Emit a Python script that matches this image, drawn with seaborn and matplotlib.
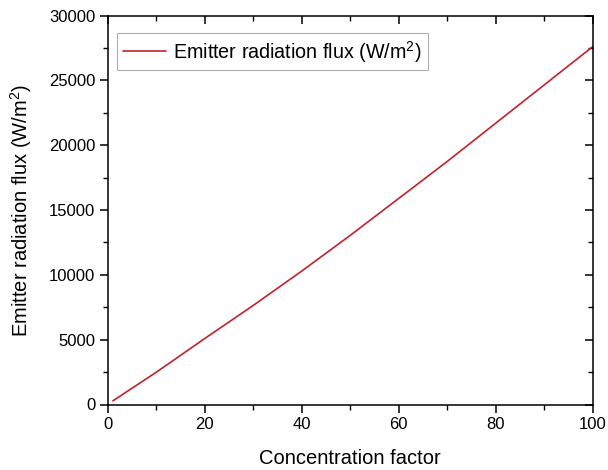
import matplotlib
matplotlib.use("Agg")
import matplotlib.pyplot as plt
from matplotlib.ticker import MultipleLocator
import seaborn as sns
import pandas as pd

# Emitter radiation flux versus solar concentration factor
concentration = [1, 10, 20, 30, 40, 50, 60, 70, 80, 90, 100]
flux = [280, 2500, 5100, 7650, 10300, 13050, 15900, 18750, 21700, 24650, 27600]

df = pd.DataFrame({"Concentration factor": concentration,
                   "Emitter radiation flux (W/m$^2$)": flux})

sns.set_theme(style="ticks")
plt.rcParams["font.family"] = ["Liberation Sans", "DejaVu Sans"]
plt.rcParams["mathtext.fontset"] = "custom"
plt.rcParams["mathtext.rm"] = "Liberation Sans"
plt.rcParams["mathtext.it"] = "Liberation Sans"
plt.rcParams["text.color"] = "black"

fig = plt.figure(figsize=(6.08, 4.70), dpi=100)
ax = fig.add_axes([108 / 608, 1 - 404.5 / 470, (592.5 - 108) / 608, (404.5 - 15.7) / 470])

sns.lineplot(data=df, x="Concentration factor", y="Emitter radiation flux (W/m$^2$)",
             ax=ax, color="#c4212b", linewidth=1.2,
             label="Emitter radiation flux (W/m$^2$)")

ax.set_xlim(0, 100)
ax.set_ylim(0, 30000)
ax.xaxis.set_major_locator(MultipleLocator(20))
ax.xaxis.set_minor_locator(MultipleLocator(10))
ax.yaxis.set_major_locator(MultipleLocator(5000))
ax.yaxis.set_minor_locator(MultipleLocator(2500))

for side in ["top", "right", "bottom", "left"]:
    ax.spines[side].set_visible(True)
    ax.spines[side].set_color("black")
    ax.spines[side].set_linewidth(1.1)

ax.tick_params(which="major", direction="out", length=6, width=1.1,
               labelsize=12, colors="black", pad=3)
ax.tick_params(which="minor", direction="out", length=3.5, width=1.0, colors="black")
ax.tick_params(which="both", top=True, right=True)

# mirrored ticks on the top and right edges point inward
for tick in ax.xaxis.get_major_ticks() + ax.xaxis.get_minor_ticks():
    tick.tick2line.set_marker(matplotlib.lines.TICKDOWN)
for tick in ax.yaxis.get_major_ticks() + ax.yaxis.get_minor_ticks():
    tick.tick2line.set_marker(matplotlib.lines.TICKLEFT)

ax.set_xlabel("Concentration factor", fontsize=14.5, color="black", labelpad=12)
ax.set_ylabel("Emitter radiation flux (W/m$^2$)", fontsize=14.5, color="black", labelpad=11)

leg = ax.legend(loc="upper left", fontsize=14.2, frameon=True, fancybox=False,
                edgecolor="#999999", handlelength=2.2, handletextpad=0.35,
                borderpad=0.3, borderaxespad=0.0, labelcolor="black",
                bbox_to_anchor=(9 / 484.5, 1 - 17 / 388.8))
leg.get_frame().set_linewidth(0.8)

fig.savefig("out.png", dpi=100, facecolor="white")
